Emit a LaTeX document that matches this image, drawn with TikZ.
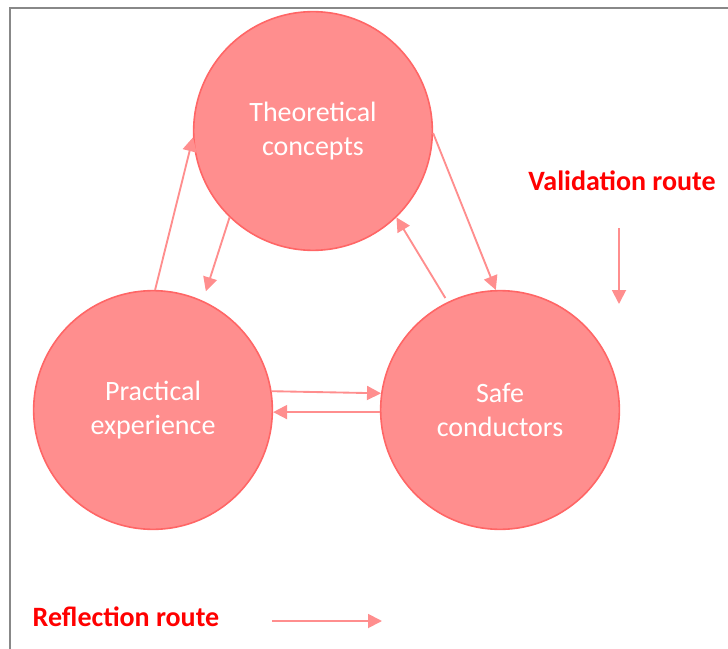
\documentclass[tikz,border=0pt]{standalone}
\usepackage{fontspec}
\setmainfont{Carlito}
\usetikzlibrary{arrows.meta}
\definecolor{stagefill}{RGB}{255,142,142}
\definecolor{stageline}{RGB}{255,102,102}
\definecolor{framegray}{RGB}{136,136,136}
\begin{document}
\begin{tikzpicture}[x=0.75pt, y=-0.75pt,
            stage/.style = {draw=stageline, fill=stagefill, line width=1.2pt, circle,
                minimum size=179pt, inner sep=0pt, align=center, text=white,
                font=\fontsize{21}{26}\selectfont},
            route/.style = {draw=stagefill, line width=1.4pt,
                -{Triangle[length=10.5pt, width=10.5pt]}},
            legend/.style = {text=red, font=\fontsize{21}{25}\selectfont\bfseries}]
\useasboundingbox (0,0) rectangle (728,649);
\draw[framegray, line width=1.5pt] (10,649) -- (10,8) -- (728,8);

\node[stage] (theory) at (313,131) {Theoretical\\concepts};
\node[stage] (practice) at (153,410) {Practical\\experience};
\node[stage] (safe) at (500,410) {Safe\\conductors};

\draw[route] (practice.89) -- (theory.183);
\draw[route] (theory.226) -- ([shift={(4,-9)}]practice.66);
\draw[route] (theory.359) -- (safe.92);
\draw[route] ([shift={(-2,-4)}]safe.116) -- (theory.314);
\draw[route] (practice.9) -- (safe.172);
\draw[route] (safe.181) -- (practice.359);

\node[legend] (validation) at (622,181) {Validation route};
\coordinate (valtop) at (619,228);
\coordinate (valbot) at (619,304);
\draw[route] (valtop) -- (valbot);

\node[legend] (reflection) at (126,617) {Reflection route};
\coordinate (refleft) at (272,621);
\coordinate (refright) at (382,621);
\draw[route] (refleft) -- (refright);
\end{tikzpicture}
\end{document}
